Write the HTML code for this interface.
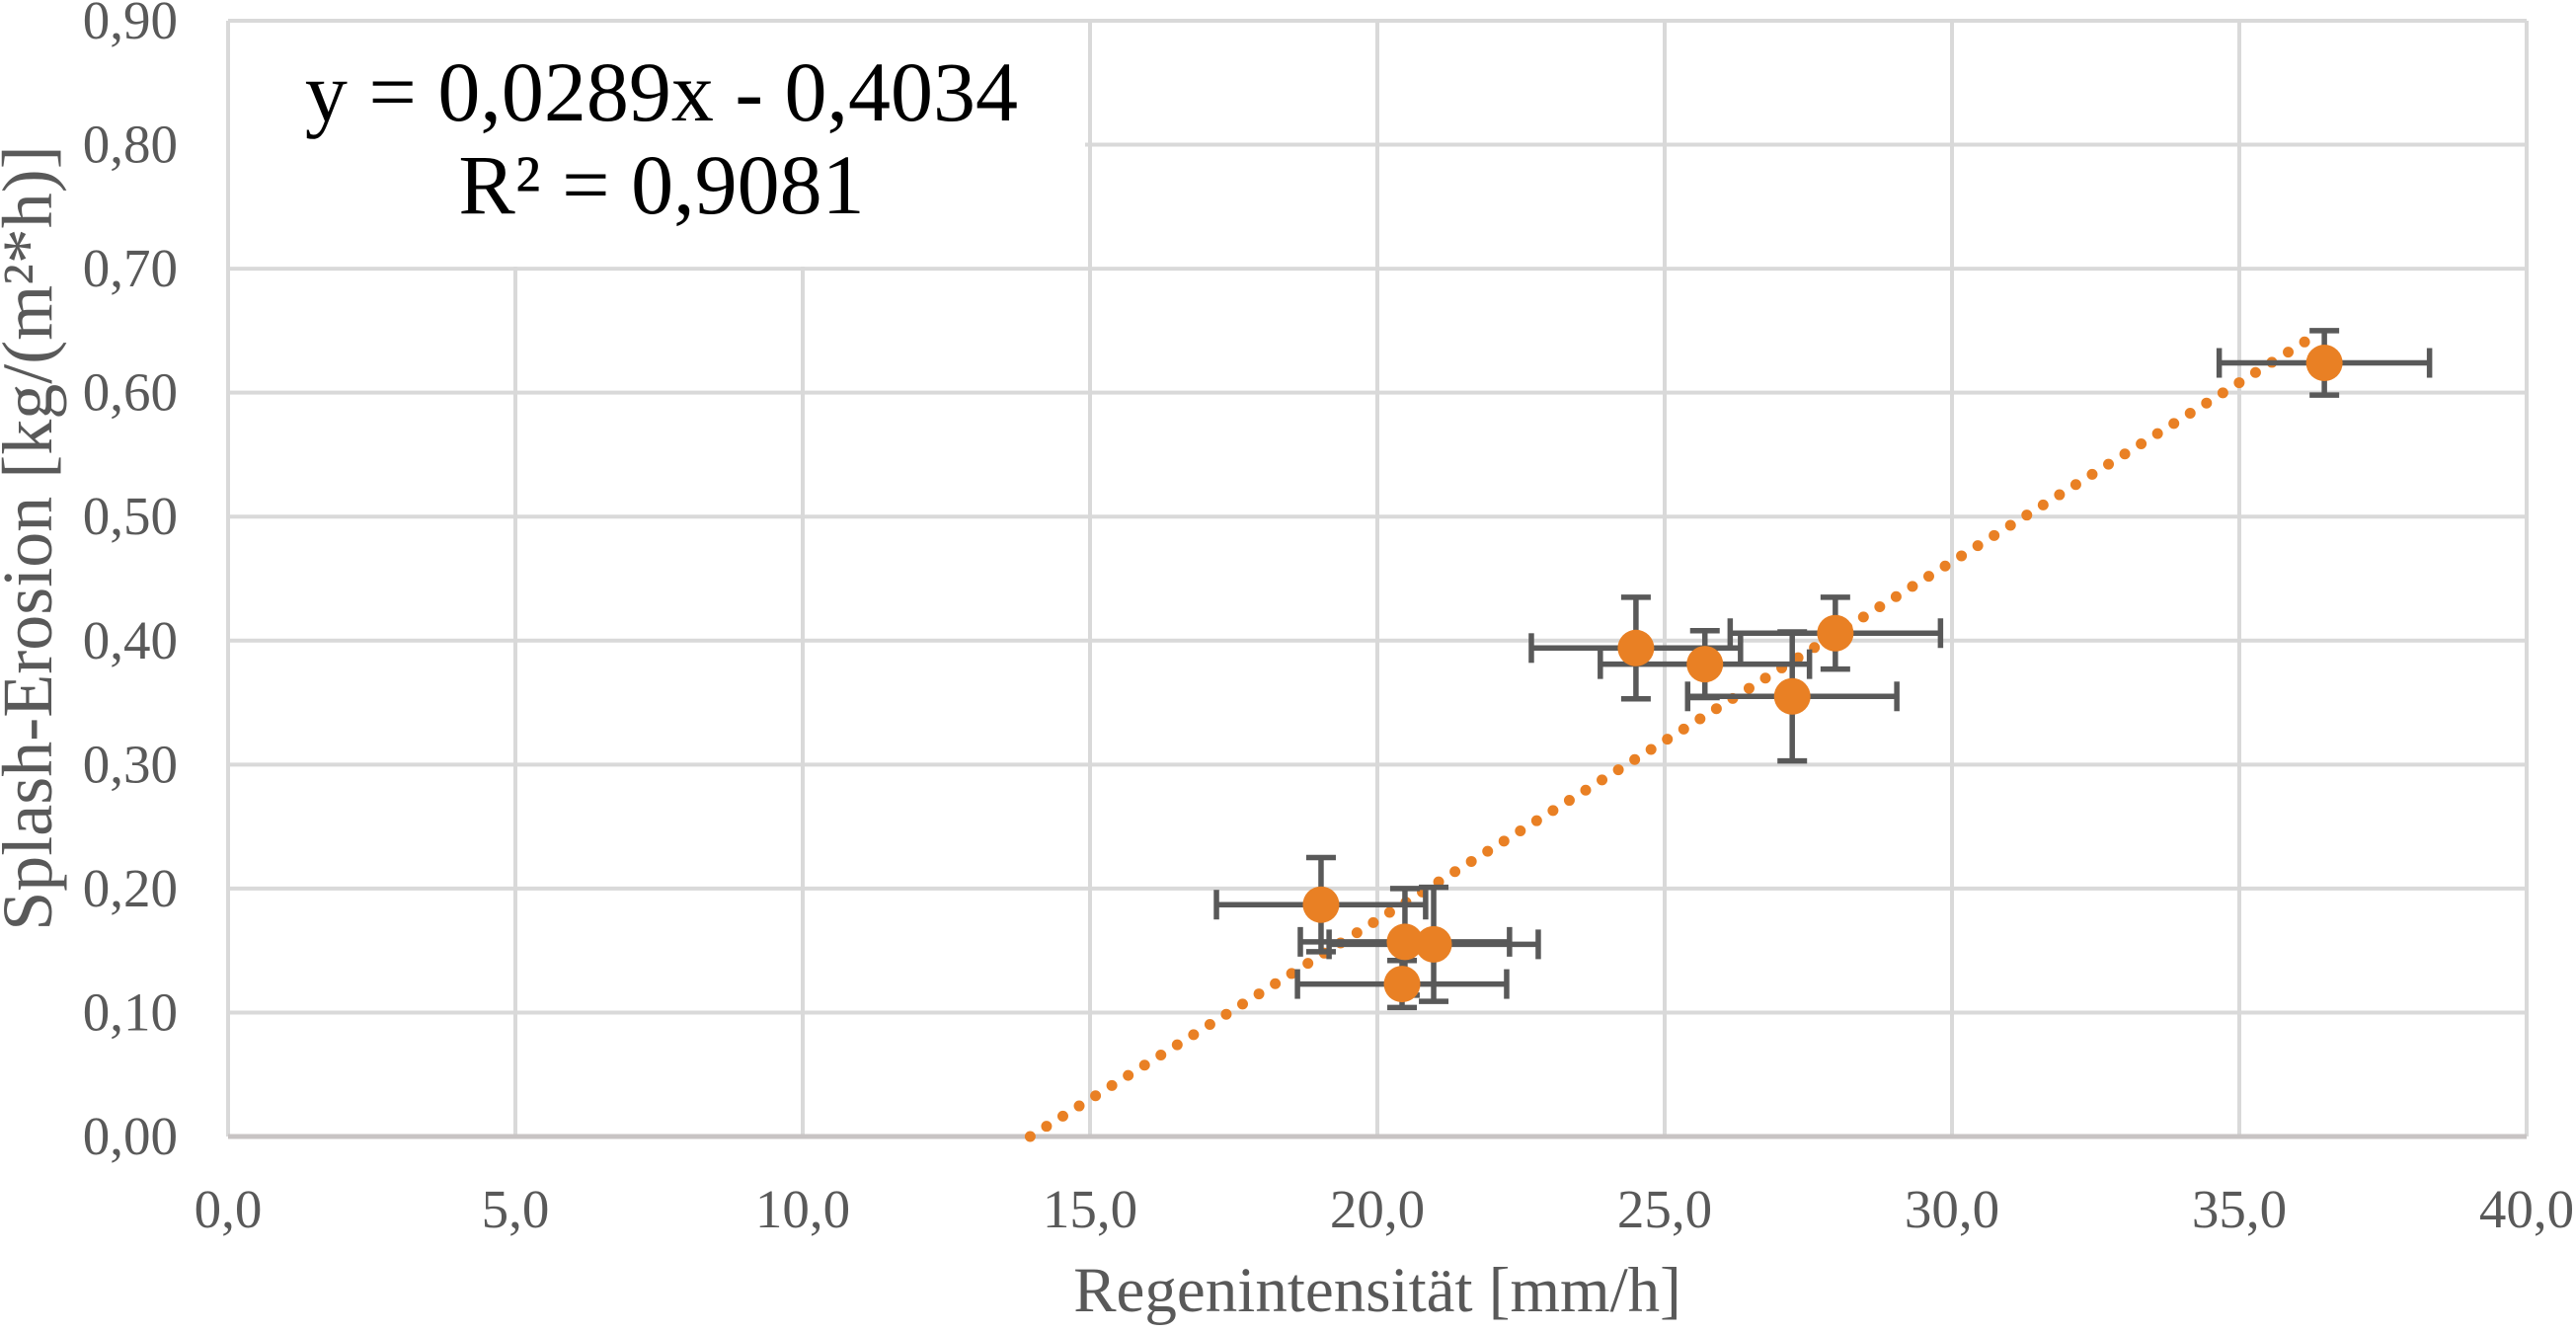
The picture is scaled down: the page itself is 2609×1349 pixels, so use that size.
<!DOCTYPE html>
<html><head><meta charset="utf-8"><style>
html,body{margin:0;padding:0;background:#fff;}
svg{display:block;}
</style></head><body>
<svg id="chart" width="2609" height="1349" viewBox="0 0 2609 1349" xmlns="http://www.w3.org/2000/svg" font-family="'Liberation Serif', serif">
<g id="grid"></g>
<g id="xticks"></g>
<g id="yticks"></g>
<rect x="233" y="23" width="866" height="247" fill="#fff"/>
<text x="670" y="122" font-size="86" text-anchor="middle" fill="#000">y = 0,0289x - 0,4034</text>
<text x="670" y="216" font-size="86" text-anchor="middle" fill="#000">R² = 0,9081</text>
<g id="trend"></g>
<g id="errs"></g>
<g id="pts"></g>
<text x="1395" y="1328" font-size="65" text-anchor="middle" fill="#595959">Regenintensität [mm/h]</text>
<text transform="translate(52,545) rotate(-90)" font-size="72" text-anchor="middle" fill="#595959">Splash-Erosion [kg/(m²*h)]</text>
</svg>
<script>
const xTicks = [0,5,10,15,20,25,30,35,40];
const xTickLabels = ["0,0","5,0","10,0","15,0","20,0","25,0","30,0","35,0","40,0"];
const yTicks = [0,0.1,0.2,0.3,0.4,0.5,0.6,0.7,0.8,0.9];
const yTickLabels = ["0,00","0,10","0,20","0,30","0,40","0,50","0,60","0,70","0,80","0,90"];
const xValues = [36.48,24.50,25.70,27.97,27.22,19.02,20.48,20.98,20.43];
const yValues = [0.624,0.394,0.381,0.406,0.355,0.187,0.157,0.155,0.123];
const xErrors = [1.83,1.82,1.82,1.83,1.82,1.82,1.82,1.82,1.82];
const yErrors = [0.026,0.041,0.027,0.029,0.052,0.038,0.043,0.046,0.019];
const trendSlope = 0.0289;
const trendIntercept = -0.4034;
const trendXEnd = 36.36;

const NS="http://www.w3.org/2000/svg";
const X0=231,X1=2559,Y0=1151,Y1=21,XMAX=40,YMAX=0.9;
const sx=v=>X0+v/XMAX*(X1-X0);
const sy=v=>Y0-v/YMAX*(Y0-Y1);
function mk(tag,attrs,parent){const e=document.createElementNS(NS,tag);for(const k in attrs)e.setAttribute(k,attrs[k]);parent.appendChild(e);return e;}
const grid=document.getElementById('grid');
xTicks.forEach((t,i)=>{
  const l=mk('line',{x1:sx(t),x2:sx(t),y1:Y1,y2:Y0,stroke:'#d9d9d9','stroke-width':4},grid);
  
  
  const tx=mk('text',{x:sx(t),y:1243,'font-size':55,'text-anchor':'middle',fill:'#595959'},document.getElementById('xticks'));
  tx.textContent=xTickLabels[i];
  
  
});
yTicks.forEach((t,i)=>{
  const l=mk('line',{x1:X0,x2:X1,y1:sy(t),y2:sy(t),stroke:t===0?'#c8c4c4':'#d9d9d9','stroke-width':t===0?5:4},grid);
  
  
  const tx=mk('text',{x:180,y:sy(t)+18,'font-size':55,'text-anchor':'end',fill:'#595959'},document.getElementById('yticks'));
  tx.textContent=yTickLabels[i];
  
  
});
const xStart=-trendIntercept/trendSlope;
const tl=mk('line',{x1:sx(xStart),y1:sy(0),x2:sx(trendXEnd),y2:sy(trendSlope*trendXEnd+trendIntercept),stroke:'#e98024','stroke-width':11,'stroke-linecap':'round','stroke-dasharray':'0 19.5'},document.getElementById('trend'));


const errs=document.getElementById('errs'),pts=document.getElementById('pts');
const ec={stroke:'#595959','stroke-width':5.5};
xValues.forEach((xv,i)=>{
  const cx=sx(xv),cy=sy(yValues[i]);
  const xl=sx(xv-xErrors[i]),xr=sx(xv+xErrors[i]),yt=sy(yValues[i]+yErrors[i]),yb=sy(yValues[i]-yErrors[i]);
  const g=mk('g',{},errs);
  
  
  mk('line',Object.assign({x1:xl,x2:xr,y1:cy,y2:cy},ec),g);
  mk('line',Object.assign({x1:xl,x2:xl,y1:cy-15,y2:cy+15},ec),g);
  mk('line',Object.assign({x1:xr,x2:xr,y1:cy-15,y2:cy+15},ec),g);
  mk('line',Object.assign({x1:cx,x2:cx,y1:yt,y2:yb},ec),g);
  mk('line',Object.assign({x1:cx-15,x2:cx+15,y1:yt,y2:yt},ec),g);
  mk('line',Object.assign({x1:cx-15,x2:cx+15,y1:yb,y2:yb},ec),g);
  const c=mk('circle',{cx:cx,cy:cy,r:18.5,fill:'#e98024'},pts);
  
  
});
</script>
</body></html>
